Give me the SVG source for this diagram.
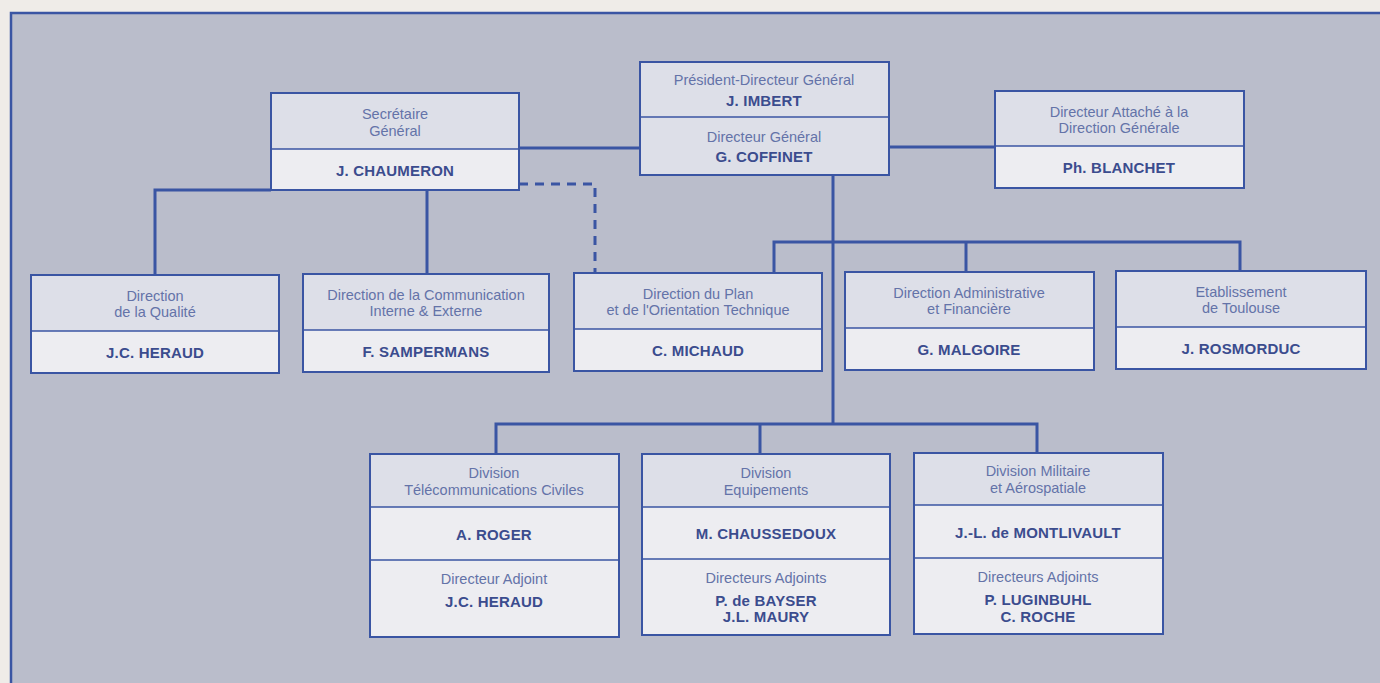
<svg xmlns="http://www.w3.org/2000/svg" width="1380" height="683" viewBox="0 0 1380 683">
<style>
.frame{fill:#babdcb;stroke:#3a55a3;stroke-width:2.5}
.t{fill:#dddfe8;stroke:none}
.n{fill:#ededf1;stroke:none}
.b{fill:none;stroke:#3a55a3;stroke-width:2}
.d{stroke:#3a55a3;stroke-width:1.5}
.c{fill:none;stroke:#3a55a3;stroke-width:3}
.dash{fill:none;stroke:#3a55a3;stroke-width:3;stroke-dasharray:9 7}
text{font-family:"Liberation Sans",Arial,sans-serif;text-anchor:middle}
.l{font-size:14.5px;fill:#6473a8;font-weight:normal}
.nm{font-size:15px;fill:#3b4c8e;font-weight:bold;letter-spacing:0.2px}
</style>
<rect x="0" y="0" width="1380" height="683" fill="#efece8"/>
<rect class="frame" x="11" y="13" width="1390" height="700"/>
<g id="connectors">
<path class="c" d="M519 148H640"/>
<path class="c" d="M889 147H995"/>
<path class="c" d="M833 175V424"/>
<path class="c" d="M774 273V242H1240V270"/>
<path class="c" d="M966 242V272"/>
<path class="c" d="M155 275V190H271"/>
<path class="c" d="M427 190V274"/>
<path class="dash" d="M519 184H595V273"/>
<path class="c" d="M496 454V424H1037V453"/>
<path class="c" d="M760 424V454"/>
</g>
<g id="pdg">
<rect class="t" x="640" y="62" width="249" height="113"/>
<path class="d" d="M640 117H889"/>
<rect class="b" x="640" y="62" width="249" height="113"/>
<text class="l" x="764" y="85">Président-Directeur Général</text>
<text class="nm" x="764" y="106">J. IMBERT</text>
<text class="l" x="764" y="142">Directeur Général</text>
<text class="nm" x="764" y="162">G. COFFINET</text>
</g>
<g id="secretaire">
<rect class="t" x="271" y="93" width="248" height="56"/>
<rect class="n" x="271" y="149" width="248" height="41"/>
<path class="d" d="M271 149H519"/>
<rect class="b" x="271" y="93" width="248" height="97"/>
<text class="l" x="395" y="119">Secrétaire</text>
<text class="l" x="395" y="136">Général</text>
<text class="nm" x="395" y="176">J. CHAUMERON</text>
</g>
<g id="attache">
<rect class="t" x="995" y="91" width="249" height="55"/>
<rect class="n" x="995" y="146" width="249" height="42"/>
<path class="d" d="M995 146H1244"/>
<rect class="b" x="995" y="91" width="249" height="97"/>
<text class="l" x="1119" y="117">Directeur Attaché à la</text>
<text class="l" x="1119" y="133">Direction Générale</text>
<text class="nm" x="1119" y="173">Ph. BLANCHET</text>
</g>
<g id="qualite">
<rect class="t" x="31" y="275" width="248" height="56"/>
<rect class="n" x="31" y="331" width="248" height="42"/>
<path class="d" d="M31 331H279"/>
<rect class="b" x="31" y="275" width="248" height="98"/>
<text class="l" x="155" y="301">Direction</text>
<text class="l" x="155" y="317">de la Qualité</text>
<text class="nm" x="155" y="358">J.C. HERAUD</text>
</g>
<g id="communication">
<rect class="t" x="303" y="274" width="246" height="56"/>
<rect class="n" x="303" y="330" width="246" height="42"/>
<path class="d" d="M303 330H549"/>
<rect class="b" x="303" y="274" width="246" height="98"/>
<text class="l" x="426" y="300">Direction de la Communication</text>
<text class="l" x="426" y="316">Interne &amp; Externe</text>
<text class="nm" x="426" y="357">F. SAMPERMANS</text>
</g>
<g id="plan">
<rect class="t" x="574" y="273" width="248" height="56"/>
<rect class="n" x="574" y="329" width="248" height="42"/>
<path class="d" d="M574 329H822"/>
<rect class="b" x="574" y="273" width="248" height="98"/>
<text class="l" x="698" y="299">Direction du Plan</text>
<text class="l" x="698" y="315">et de l'Orientation Technique</text>
<text class="nm" x="698" y="356">C. MICHAUD</text>
</g>
<g id="administrative">
<rect class="t" x="845" y="272" width="249" height="56"/>
<rect class="n" x="845" y="328" width="249" height="42"/>
<path class="d" d="M845 328H1094"/>
<rect class="b" x="845" y="272" width="249" height="98"/>
<text class="l" x="969" y="298">Direction Administrative</text>
<text class="l" x="969" y="314">et Financière</text>
<text class="nm" x="969" y="355">G. MALGOIRE</text>
</g>
<g id="toulouse">
<rect class="t" x="1116" y="271" width="250" height="56"/>
<rect class="n" x="1116" y="327" width="250" height="42"/>
<path class="d" d="M1116 327H1366"/>
<rect class="b" x="1116" y="271" width="250" height="98"/>
<text class="l" x="1241" y="297">Etablissement</text>
<text class="l" x="1241" y="313">de Toulouse</text>
<text class="nm" x="1241" y="354">J. ROSMORDUC</text>
</g>
<g id="telecom">
<rect class="t" x="370" y="454" width="249" height="53"/>
<rect class="n" x="370" y="507" width="249" height="130"/>
<path class="d" d="M370 507H619M370 560H619"/>
<rect class="b" x="370" y="454" width="249" height="183"/>
<text class="l" x="494" y="478">Division</text>
<text class="l" x="494" y="495">Télécommunications Civiles</text>
<text class="nm" x="494" y="540">A. ROGER</text>
<text class="l" x="494" y="584">Directeur Adjoint</text>
<text class="nm" x="494" y="607">J.C. HERAUD</text>
</g>
<g id="equipements">
<rect class="t" x="642" y="454" width="248" height="53"/>
<rect class="n" x="642" y="507" width="248" height="128"/>
<path class="d" d="M642 507H890M642 559H890"/>
<rect class="b" x="642" y="454" width="248" height="181"/>
<text class="l" x="766" y="478">Division</text>
<text class="l" x="766" y="495">Equipements</text>
<text class="nm" x="766" y="539">M. CHAUSSEDOUX</text>
<text class="l" x="766" y="583">Directeurs Adjoints</text>
<text class="nm" x="766" y="606">P. de BAYSER</text>
<text class="nm" x="766" y="622">J.L. MAURY</text>
</g>
<g id="militaire">
<rect class="t" x="914" y="453" width="249" height="52"/>
<rect class="n" x="914" y="505" width="249" height="129"/>
<path class="d" d="M914 505H1163M914 558H1163"/>
<rect class="b" x="914" y="453" width="249" height="181"/>
<text class="l" x="1038" y="476">Division Militaire</text>
<text class="l" x="1038" y="493">et Aérospatiale</text>
<text class="nm" x="1038" y="538">J.-L. de MONTLIVAULT</text>
<text class="l" x="1038" y="582">Directeurs Adjoints</text>
<text class="nm" x="1038" y="605">P. LUGINBUHL</text>
<text class="nm" x="1038" y="622">C. ROCHE</text>
</g>
</svg>
